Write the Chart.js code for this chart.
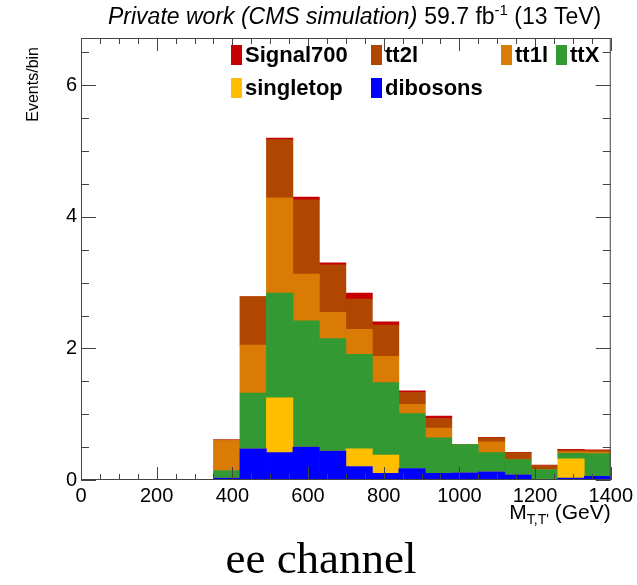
<!DOCTYPE html>
<html>
<head>
<meta charset="utf-8">
<script src="https://cdn.jsdelivr.net/npm/chart.js@4.4.1/dist/chart.umd.min.js"></script>
<style>
  html, body { margin: 0; padding: 0; background: #ffffff; }
  #wrap { position: relative; width: 637px; height: 585px; }
  canvas { display: block; }
</style>
</head>
<body>
<div id="wrap"><canvas id="c" width="637" height="585"></canvas></div>
<script>
// M_{T,T'} histogram, ee channel: stacked backgrounds plus the 700 GeV signal.
const binLowEdges = [350, 420, 490, 560, 630, 700, 770, 840, 910, 980, 1050, 1120, 1190, 1260, 1330];
const binWidth = 70;

const dibosons  = [0.03, 0.475, 0.415, 0.50, 0.44, 0.205, 0.10, 0.175, 0.10, 0.11, 0.125, 0.08, 0.01, 0.03, 0.055];
const singletop = [0.00, 0.00, 0.835, 0.00, 0.00, 0.27, 0.28, 0.00, 0.00, 0.00, 0.00, 0.00, 0.00, 0.29, 0.00];
const ttX       = [0.115, 0.845, 1.59, 1.92, 1.71, 1.435, 1.10, 0.835, 0.54, 0.43, 0.29, 0.23, 0.15, 0.085, 0.345];
const tt1l      = [0.455, 0.73, 1.45, 0.71, 0.40, 0.38, 0.40, 0.14, 0.15, 0.00, 0.165, 0.00, 0.00, 0.025, 0.025];
const tt2l      = [0.01, 0.74, 0.885, 1.13, 0.72, 0.46, 0.475, 0.18, 0.145, 0.00, 0.065, 0.105, 0.06, 0.025, 0.025];
const signal700 = [0.00, 0.00, 0.025, 0.04, 0.03, 0.09, 0.05, 0.025, 0.035, 0.00, 0.005, 0.005, 0.005, 0.01, 0.01];

const massTicks = [0, 200, 400, 600, 800, 1000, 1200, 1400];
const eventTicks = [0, 2, 4, 6];

const colors = {
  Signal700: '#c40000',
  tt2l: '#b14600',
  tt1l: '#d97b04',
  ttX: '#339933',
  singletop: '#ffbf00',
  dibosons: '#0000ff'
};

// stacking order bottom -> top
const stack = [
  ['dibosons', dibosons],
  ['singletop', singletop],
  ['ttX', ttX],
  ['tt1l', tt1l],
  ['tt2l', tt2l],
  ['Signal700', signal700]
];

const datasets = stack.map(([name, vals]) => ({
  label: name,
  data: vals.map((v, i) => ({ x: binLowEdges[i] + binWidth / 2, y: v })),
  backgroundColor: colors[name],
  borderWidth: 0,
  barPercentage: 1.0,
  categoryPercentage: 1.0
}));

const FONT = '"Liberation Sans", Arial, Helvetica, sans-serif';

// ROOT-style frame, inward ticks on all four sides, titles and legend
const rootDecor = {
  id: 'rootDecor',
  afterDraw(chart) {
    const ctx = chart.ctx;
    const a = chart.chartArea;
    const xs = chart.scales.x, ys = chart.scales.y;
    ctx.save();

    // frame
    ctx.strokeStyle = '#444';
    ctx.lineWidth = 1;
    ctx.strokeRect(a.left + 0.5, a.top + 0.5, a.right - a.left - 1, a.bottom - a.top - 1);

    // x ticks: major every 200, minor every 50
    ctx.beginPath();
    for (let v = xs.min; v <= xs.max + 1e-6; v += 50) {
      const px = Math.round(xs.getPixelForValue(v)) + 0.5;
      const len = (v % 200 === 0) ? 13 : 6;
      ctx.moveTo(px, a.bottom); ctx.lineTo(px, a.bottom - len);
      ctx.moveTo(px, a.top); ctx.lineTo(px, a.top + len);
    }
    // y ticks: major every 2, minor every 0.5
    for (let v = 0; v <= ys.max + 1e-6; v += 0.5) {
      const py = Math.round(ys.getPixelForValue(v)) + 0.5;
      const len = (v % 2 === 0) ? 15 : 8;
      ctx.moveTo(a.left, py); ctx.lineTo(a.left + len, py);
      ctx.moveTo(a.right, py); ctx.lineTo(a.right - len, py);
    }
    ctx.stroke();

    ctx.fillStyle = '#000';
    ctx.textBaseline = 'alphabetic';

    // top title
    ctx.font = 'italic 23px ' + FONT;
    ctx.textAlign = 'left';
    const t1 = 'Private work (CMS simulation)';
    ctx.fillText(t1, 108, 24);
    let x = 108 + ctx.measureText(t1).width + 7;
    ctx.font = '23px ' + FONT;
    ctx.fillText('59.7 fb', x, 24);
    x += ctx.measureText('59.7 fb').width;
    ctx.font = '15px ' + FONT;
    ctx.fillText('-1', x, 15);
    x += ctx.measureText('-1').width;
    ctx.font = '23px ' + FONT;
    ctx.fillText(' (13 TeV)', x, 24);

    // y axis title
    ctx.save();
    ctx.translate(38, 47);
    ctx.rotate(-Math.PI / 2);
    ctx.font = '16px ' + FONT;
    ctx.textAlign = 'right';
    ctx.fillText('Events/bin', 0, 0);
    ctx.restore();

    // x axis title, right aligned on the frame edge
    ctx.textAlign = 'left';
    ctx.font = '21px ' + FONT;
    const wM = ctx.measureText('M').width;
    const wG = ctx.measureText(' (GeV)').width;
    ctx.font = '14px ' + FONT;
    const wS = ctx.measureText("T,T'").width;
    let xt = a.right - (wM + wS + wG);
    ctx.font = '21px ' + FONT;
    ctx.fillText('M', xt, 519);
    ctx.font = '14px ' + FONT;
    ctx.fillText("T,T'", xt + wM, 524);
    ctx.font = '21px ' + FONT;
    ctx.fillText(' (GeV)', xt + wM + wS, 519);

    // legend
    const entries = [
      ['Signal700', 231, 55], ['tt2l', 371, 55], ['tt1l', 501, 55], ['ttX', 556, 55],
      ['singletop', 231, 88], ['dibosons', 371, 88]
    ];
    ctx.font = 'bold 22px ' + FONT;
    ctx.textBaseline = 'middle';
    for (const [name, bx, cy] of entries) {
      ctx.fillStyle = colors[name];
      ctx.fillRect(bx, cy - 10, 11, 20);
      ctx.fillStyle = '#000';
      ctx.fillText(name, bx + 14, cy + 1);
    }

    // caption below the plot
    ctx.font = '45px "Liberation Serif", "DejaVu Serif", serif';
    ctx.textAlign = 'center';
    ctx.textBaseline = 'alphabetic';
    ctx.fillText('ee channel', 321, 573);

    ctx.restore();
  }
};

new Chart(document.getElementById('c'), {
  type: 'bar',
  data: { datasets },
  options: {
    responsive: false,
    devicePixelRatio: 1,
    animation: false,
    layout: { padding: { top: 38, right: 24, left: 0, bottom: 0 } },
    plugins: { legend: { display: false }, tooltip: { enabled: false }, title: { display: false } },
    scales: {
      x: {
        type: 'linear',
        min: 0, max: 1400,
        stacked: true,
        offset: false,
        grid: { display: false, drawTicks: false },
        border: { display: false },
        afterBuildTicks: (s) => { s.ticks = massTicks.map(v => ({ value: v })); },
        afterFit: (s) => { s.height = 105; },
        ticks: {
          color: '#000', font: { family: FONT, size: 20 }, padding: 4, maxRotation: 0, autoSkip: false,
          callback: (v) => String(v)
        }
      },
      y: {
        type: 'linear',
        min: 0, max: 6.72,
        stacked: true,
        grid: { display: false, drawTicks: false },
        border: { display: false },
        afterBuildTicks: (s) => { s.ticks = eventTicks.map(v => ({ value: v })); },
        afterFit: (s) => { s.width = 81; },
        ticks: { color: '#000', font: { family: FONT, size: 20 }, padding: 4, callback: (v) => String(v) }
      }
    }
  },
  plugins: [rootDecor]
});
</script>
</body>
</html>
